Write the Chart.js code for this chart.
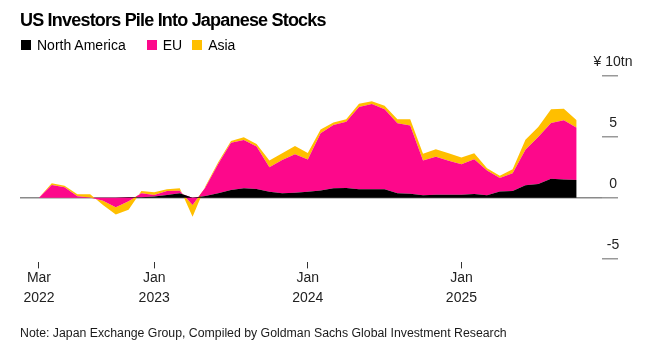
<!DOCTYPE html>
<html>
<head>
<meta charset="utf-8">
<script src="https://cdn.jsdelivr.net/npm/chart.js@4.4.1/dist/chart.umd.min.js"></script>
<style>
  html, body { margin: 0; padding: 0; background: #fff; }
  #wrap { position: relative; width: 666px; height: 356px; overflow: hidden; font-family: "Liberation Sans", Arial, sans-serif; }
  #c { position: absolute; left: 0; top: 0; }
  #title { position: absolute; left: 20px; top: 10px; font-weight: bold; font-size: 18px; line-height: 20px; letter-spacing: -0.8px; color: #000; white-space: nowrap; }
  #legend { position: absolute; left: 21px; top: 37.5px; height: 14px; display: flex; font-size: 14px; line-height: 14px; color: #000; white-space: nowrap; }
  .item { display: flex; align-items: center; }
  .sw { width: 10px; height: 10px; margin-right: 6px; }
  #note { position: absolute; left: 20px; top: 326.5px; font-size: 12.3px; line-height: 12px; color: #1a1a1a; white-space: nowrap; }
</style>
</head>
<body>
<div id="wrap">
  <canvas id="c" width="666" height="356"></canvas>
  <div id="title">US Investors Pile Into Japanese Stocks</div>
  <div id="legend"></div>
  <div id="note">Note: Japan Exchange Group, Compiled by Goldman Sachs Global Investment Research</div>
</div>
<script>
// ---- data (¥ trillion, monthly) ----
const months = [
  'Mar 2022','Apr 2022','May 2022','Jun 2022','Jul 2022','Aug 2022','Sep 2022','Oct 2022','Nov 2022','Dec 2022',
  'Jan 2023','Feb 2023','Mar 2023','Apr 2023','May 2023','Jun 2023','Jul 2023','Aug 2023','Sep 2023','Oct 2023','Nov 2023','Dec 2023',
  'Jan 2024','Feb 2024','Mar 2024','Apr 2024','May 2024','Jun 2024','Jul 2024','Aug 2024','Sep 2024','Oct 2024','Nov 2024','Dec 2024',
  'Jan 2025','Feb 2025','Mar 2025','Apr 2025','May 2025','Jun 2025','Jul 2025','Aug 2025','Sep 2025'
];
const northAmerica = [0, 0, 0, 0, 0, 0, 0, 0.03, 0.03, 0.1,
  0.22, 0.36, 0, 0.14, 0.36, 0.63, 0.77, 0.72, 0.5, 0.36, 0.4, 0.5,
  0.6, 0.77, 0.8, 0.7, 0.7, 0.7, 0.36, 0.32, 0.2, 0.25, 0.25, 0.25,
  0.3, 0.21, 0.52, 0.55, 1.02, 1.12, 1.55, 1.5, 1.45];
const eu = [0, 1.04, 0.85, 0.12, 0.02, -0.25, -0.79, -0.28, 0.33, 0.12,
  0.33, 0.21, -0.6, 0.7, 2.4, 3.87, 3.96, 3.48, 1.99, 2.73, 3.17, 2.63,
  4.68, 5.18, 5.43, 6.74, 6.98, 6.56, 5.74, 5.6, 2.86, 3.11, 2.77, 2.5,
  2.85, 2.03, 1.1, 1.45, 2.92, 3.86, 4.57, 4.84, 4.28];
const asia = [0, 0.14, 0.13, 0.16, 0.26, -0.35, -0.58, -0.7, 0.19, 0.22,
  0.14, 0.2, -0.95, 0.1, 0.15, 0.15, 0.22, 0.2, 0.56, 0.55, 0.67, 0.53,
  0.32, 0.22, 0.21, 0.27, 0.22, 0.27, 0.33, 0.52, 0.55, 0.61, 0.62, 0.55,
  0.49, 0.17, 0.18, 0.34, 0.82, 0.82, 1.13, 0.96, 0.61];
const seriesNames = ['North America', 'EU', 'Asia'];
const seriesColors = ['#000000', '#fd088b', '#ffbf00'];
const yTickValues = [-5, 0, 5, 10];
const yTickLabels = ['-5', '0', '5', '¥ 10tn'];
const xTickIndex = [0, 9, 21, 33];
const xTickLabels = [['Mar', '2022'], ['Jan', '2023'], ['Jan', '2024'], ['Jan', '2025']];

// ---- legend (HTML) ----
const legendGaps = [21, 10, 0];
const legend = document.getElementById('legend');
seriesNames.forEach((n, k) => {
  const it = document.createElement('div'); it.className = 'item';
  it.style.marginRight = legendGaps[k] + 'px';
  const sw = document.createElement('div'); sw.className = 'sw'; sw.style.background = seriesColors[k];
  const tx = document.createElement('span'); tx.textContent = n;
  it.appendChild(sw); it.appendChild(tx); legend.appendChild(it);
});

// ---- chart ----
const seriesValues = [northAmerica, eu, asia];
const datasets = seriesValues.map((arr, k) => ({
  label: seriesNames[k],
  data: arr.map((v, i) => ({ x: i, y: v })),
  backgroundColor: seriesColors[k],
  borderColor: 'rgba(0,0,0,0)',
  borderWidth: 0,
  pointRadius: 0,
  pointHoverRadius: 0,
  tension: 0,
  fill: k === 0 ? 'origin' : '-1'
}));

Chart.defaults.font.family = '"Liberation Sans", Arial, sans-serif';

new Chart(document.getElementById('c'), {
  type: 'line',
  data: { datasets },
  options: {
    responsive: false,
    animation: false,
    devicePixelRatio: 1,
    layout: { padding: { left: 20, right: 48, top: 69.6, bottom: 48.4 } },
    plugins: { legend: { display: false }, title: { display: false }, tooltip: { enabled: false } },
    scales: {
      x: {
        type: 'linear',
        min: -1.48,
        max: 43.98,
        afterBuildTicks: s => { s.ticks = xTickIndex.map(v => ({ value: v })); },
        ticks: {
          autoSkip: false, maxRotation: 0, padding: 0, color: '#222',
          font: { size: 14, lineHeight: 1.4 },
          callback: v => { const k = xTickIndex.indexOf(v); return k >= 0 ? xTickLabels[k] : ''; }
        },
        grid: { drawOnChartArea: false, drawTicks: true, tickLength: 6, tickColor: '#333', tickWidth: 1 },
        border: { display: false }
      },
      y: {
        stacked: true,
        position: 'right',
        min: -5.3,
        max: 10.5,
        afterBuildTicks: s => { s.ticks = yTickValues.map(v => ({ value: v })); },
        afterFit: s => { s.width = 16; },
        ticks: {
          mirror: true, crossAlign: 'center', padding: 30.5, labelOffset: -14, color: '#222',
          font: { size: 14 },
          callback: v => { const k = yTickValues.indexOf(v); return k >= 0 ? yTickLabels[k] : ''; }
        },
        grid: {
          color: ctx => (ctx.tick && ctx.tick.value === 0) ? '#8a8a8a' : 'rgba(0,0,0,0)',
          lineWidth: 1.5, tickLength: 16, tickColor: '#999', tickWidth: 1.5
        },
        border: { display: false }
      }
    }
  }
});
</script>
</body>
</html>
